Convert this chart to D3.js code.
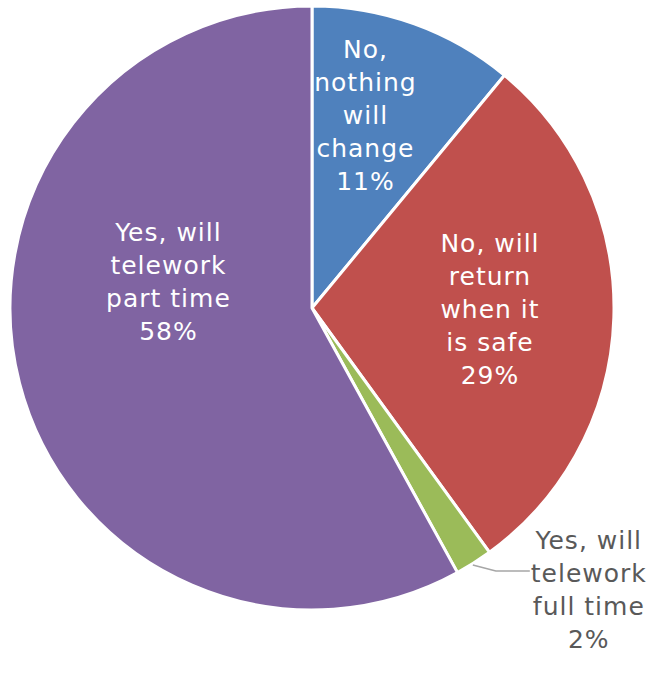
<!DOCTYPE html>
<html>
<head>
<meta charset="utf-8">
<script src="https://cdn.jsdelivr.net/npm/d3@7"></script>
<style>
  html, body { margin: 0; padding: 0; background: #fff; }
  svg { display: block; }
  text { font-family: "DejaVu Sans", "Noto Sans", sans-serif; letter-spacing: 1px; }
</style>
</head>
<body>
<svg id="chart" width="650" height="685"></svg>
<script>
// Survey answers: will your organisation change its telework policy?
const categories = [
  "No, nothing will change",
  "No, will return when it is safe",
  "Yes, will telework full time",
  "Yes, will telework part time"
];
const labelLines = [
  ["No,", "nothing", "will", "change"],
  ["No, will", "return", "when it", "is safe"],
  ["Yes, will", "telework", "full time"],
  ["Yes, will", "telework", "part time"]
];
const percentValues = [11, 29, 2, 58];
const sliceColors = ["#4F81BD", "#C0504D", "#9BBB59", "#8064A2"];

const W = 650, H = 685;
const cx = 312, cy = 308, R = 302;
const fontSize = 25, lineH = 33;

const svg = d3.select("#chart");
const g = svg.append("g").attr("transform", `translate(${cx},${cy})`);

const data = categories.map((c, i) => ({
  name: c, value: percentValues[i], lines: labelLines[i], color: sliceColors[i]
}));

const pie = d3.pie().value(d => d.value).sort(null);
const arc = d3.arc().innerRadius(0).outerRadius(R);
const arcs = pie(data);

g.selectAll("path.slice")
  .data(arcs)
  .join("path")
  .attr("class", "slice")
  .attr("d", arc)
  .attr("fill", d => d.data.color)
  .attr("stroke", "#fff")
  .attr("stroke-width", 3)
  .attr("stroke-linejoin", "round");

// Label placement in polar form: distance from centre and bearing (degrees clockwise from 12 o'clock)
const labelPolar = [
  { r: 200, a: 15.5, inside: true },
  { r: 178, a: 90.5, inside: true },
  { r: 0, a: 0, inside: false },
  { r: 146, a: 280.5, inside: true }
];

arcs.forEach((d, i) => {
  const p = labelPolar[i];
  const lines = d.data.lines.concat([d.data.value + "%"]);
  let x, y, fill;
  if (p.inside) {
    const t = p.a * Math.PI / 180;
    x = p.r * Math.sin(t);
    y = -p.r * Math.cos(t);
    fill = "#fff";
  } else {
    // outside label with leader line from the slice's outer edge
    const mid = (d.startAngle + d.endAngle) / 2;
    const ex = R * Math.sin(mid), ey = -R * Math.cos(mid);
    g.append("polyline")
      .attr("points", [[ex - 1, ey + 2], [ex + 22, ey + 8], [ex + 56, ey + 8]].map(q => q.join(",")).join(" "))
      .attr("fill", "none")
      .attr("stroke", "#A6A6A6")
      .attr("stroke-width", 1.5);
    x = ex + 115;
    y = ey + 27;
    fill = "#595959";
  }
  const t = g.append("text")
    .attr("text-anchor", "middle")
    .attr("fill", fill)
    .attr("font-size", fontSize);
  const y0 = y - (lines.length - 1) * lineH / 2;
  lines.forEach((ln, k) => {
    t.append("tspan")
      .attr("x", x)
      .attr("y", y0 + k * lineH)
      .attr("dy", "0.35em")
      .text(ln);
  });
});
</script>
</body>
</html>
